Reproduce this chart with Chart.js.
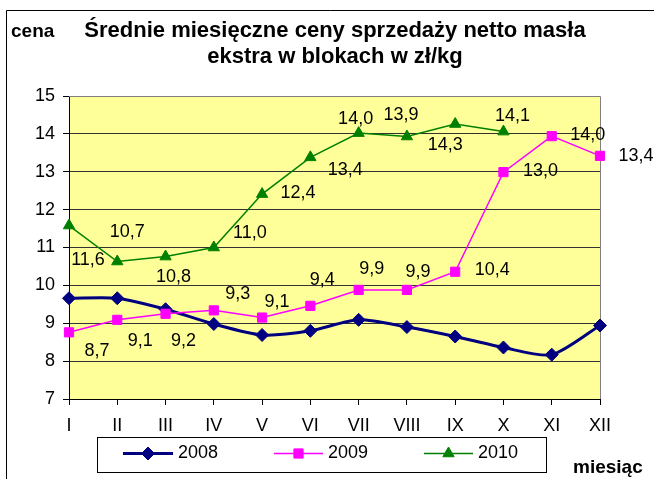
<!DOCTYPE html>
<html><head><meta charset="utf-8">
<script src="https://cdn.jsdelivr.net/npm/chart.js@4/dist/chart.umd.min.js"></script>
<style>html,body{margin:0;padding:0;background:#fff}#wrap{width:654px;height:479px;position:relative}</style>
</head><body><div id="wrap"><canvas id="c"></canvas></div>
<script>
// ---- data ----
const months = ['I','II','III','IV','V','VI','VII','VIII','IX','X','XI','XII'];
const seriesNames = ['2008','2009','2010'];
const s2008 = [9.66, 9.66, 9.37, 8.98, 8.69, 8.80, 9.09, 8.90, 8.65, 8.36, 8.17, 8.94];
const s2009 = [8.76, 9.09, 9.25, 9.34, 9.15, 9.46, 9.88, 9.88, 10.36, 12.99, 13.94, 13.42];
const s2010 = [11.58, 10.63, 10.76, 11.00, 12.41, 13.38, 14.02, 13.93, 14.26, 14.06, null, null];
const labels2009 = ['8,7','9,1','9,2','9,3','9,1','9,4','9,9','9,9','10,4','13,0','14,0','13,4'];
const labels2010 = ['11,6','10,7','10,8','11,0','12,4','13,4','14,0','13,9','14,3','14,1'];
const yMin = 7, yMax = 15, yStep = 1;
const titleLines = ['Średnie miesięczne ceny sprzedaży netto masła', 'ekstra w blokach w zł/kg'];
const yAxisName = 'cena';
const xAxisName = 'miesiąc';

// ---- label placement (pixel offsets from each point) ----
const off2009 = [[28,19],[23,21],[18,27],[24,-16],[15,-16],[12,-26],[13,-21],[11,-18],[37,-2],[37,-1],[36,-1],[36,0]];
const off2010 = [[19,34],[10,-29],[8,20],[36,-14],[36,-1],[35,13],[-3,-14],[-6,-21],[-10,21],[9,-16]];

const FONT = "'Liberation Sans', Arial, sans-serif";

const decor = {
  id: 'decor',
  beforeDraw(chart){
    const {ctx, chartArea: a} = chart;
    ctx.save();
    ctx.fillStyle = '#FFFF99';
    ctx.fillRect(a.left, a.top, a.right - a.left, a.bottom - a.top);
    ctx.restore();
  },
  beforeDatasetsDraw(chart){
    const {ctx, chartArea: a} = chart;
    ctx.save();
    ctx.strokeStyle = '#808080'; ctx.lineWidth = 1;
    ctx.beginPath();
    ctx.moveTo(a.left, Math.round(a.top) + 0.5); ctx.lineTo(Math.round(a.right) + 0.5, Math.round(a.top) + 0.5);
    ctx.lineTo(Math.round(a.right) + 0.5, a.bottom);
    ctx.stroke();
    ctx.restore();
  },
  afterDatasetsDraw(chart){
    const {ctx} = chart;
    ctx.save();
    ctx.font = '18px ' + FONT;
    ctx.fillStyle = '#000';
    ctx.textAlign = 'center';
    ctx.textBaseline = 'middle';
    const sets = [[1, labels2009, off2009], [2, labels2010, off2010]];
    sets.forEach(([di, labs, offs]) => {
      const meta = chart.getDatasetMeta(di);
      labs.forEach((t, i) => {
        const p = meta.data[i];
        if (!p || p.skip) return;
        ctx.fillText(t, p.x + offs[i][0], p.y + offs[i][1]);
      });
    });
    ctx.restore();
  },
  afterDraw(chart){
    const {ctx} = chart;
    ctx.save();
    // outer frame (top and left)
    ctx.strokeStyle = '#000'; ctx.lineWidth = 1;
    ctx.beginPath();
    ctx.moveTo(6.5, 479); ctx.lineTo(6.5, 10.5); ctx.lineTo(654, 10.5);
    ctx.stroke();
    // titles
    ctx.fillStyle = '#000';
    ctx.textBaseline = 'alphabetic';
    ctx.textAlign = 'center';
    ctx.font = 'bold 22px ' + FONT;
    ctx.fillText(titleLines[0], 335, 37);
    ctx.fillText(titleLines[1], 335, 63);
    ctx.textAlign = 'left';
    ctx.font = 'bold 19px ' + FONT;
    ctx.fillText(yAxisName, 11, 37);
    ctx.fillText(xAxisName, 573, 473);
    // legend
    ctx.strokeStyle = '#000';
    ctx.strokeRect(97.5, 437.5, 449, 35);
    const items = [[123, 173, 178], [274, 323, 328], [424, 473, 478]];
    const cy = 453.5;
    chart.data.datasets.forEach((ds, i) => {
      const [x1, x2, tx] = items[i];
      ctx.strokeStyle = ds.borderColor; ctx.lineWidth = ds.borderWidth;
      ctx.beginPath(); ctx.moveTo(x1, cy); ctx.lineTo(x2, cy); ctx.stroke();
      ctx.save();
      ctx.fillStyle = ds.backgroundColor; ctx.strokeStyle = ds.borderColor; ctx.lineWidth = 1;
      Chart.helpers.drawPoint(ctx, {pointStyle: ds.pointStyle, rotation: 0, borderWidth: 1, radius: ds.pointRadius}, (x1 + x2) / 2, cy);
      ctx.restore();
      ctx.fillStyle = '#000';
      ctx.font = '18px ' + FONT;
      ctx.textAlign = 'left'; ctx.textBaseline = 'middle';
      ctx.fillText(ds.label, tx, cy);
    });
    ctx.restore();
  }
};

new Chart(document.getElementById('c'), {
  type: 'line',
  data: {
    labels: months,
    datasets: [
      { label: seriesNames[0], data: s2008, borderColor: '#000080', backgroundColor: '#000080', borderWidth: 3,
        pointStyle: 'rectRot', pointRadius: 6.5, pointBorderWidth: 1, tension: 0.25, order: 3, clip: false },
      { label: seriesNames[1], data: s2009, borderColor: '#FF00FF', backgroundColor: '#FF00FF', borderWidth: 1.5,
        pointStyle: 'rect', pointRadius: 6.5, pointBorderWidth: 1, tension: 0, order: 2, clip: false },
      { label: seriesNames[2], data: s2010, borderColor: '#008000', backgroundColor: '#008000', borderWidth: 1.5,
        pointStyle: 'triangle', pointRadius: 6.5, pointBorderWidth: 1, tension: 0, order: 1, clip: false }
    ]
  },
  options: {
    responsive: true, maintainAspectRatio: false, animation: false,
    layout: { padding: { left: 0, top: 96, right: 54, bottom: 0 } },
    plugins: { legend: { display: false }, title: { display: false }, tooltip: { enabled: false } },
    scales: {
      x: {
        offset: false,
        grid: { display: true, drawOnChartArea: false, drawTicks: true, tickLength: 6, tickColor: '#000' },
        border: { display: true, color: '#000', width: 1 },
        ticks: { color: '#000', font: { family: FONT, size: 18 }, padding: 10, maxRotation: 0, autoSkip: false },
        afterFit(s){ s.height = 80; }
      },
      y: {
        min: yMin, max: yMax,
        grid: { color: (c) => c.tick && c.tick.value === yMax ? '#808080' : '#333', tickLength: 6, tickColor: '#000', lineWidth: 1 },
        border: { display: true, color: '#000', width: 1 },
        ticks: { stepSize: yStep, color: '#000', font: { family: FONT, size: 18 }, padding: 8 },
        afterFit(s){ s.width = 69; }
      }
    }
  },
  plugins: [decor]
});
</script></body></html>
